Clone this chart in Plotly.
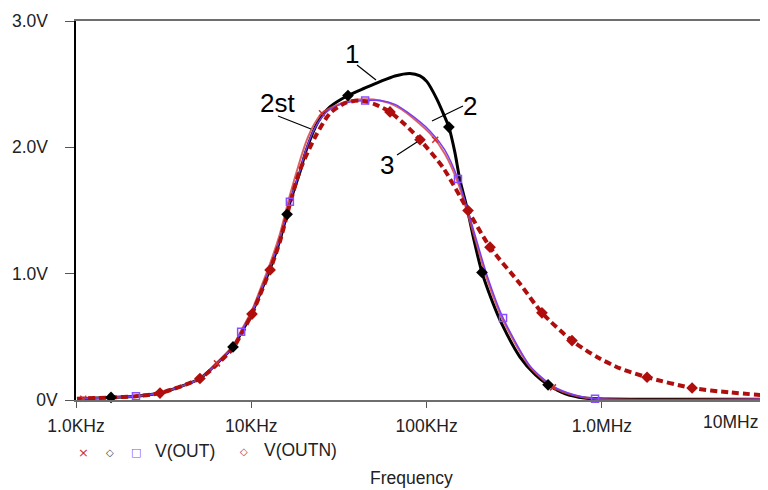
import plotly.graph_objects as go

# ---------------- data ----------------
NB = "\u00a0"
x_tick_vals = [1e3, 1e4, 1e5, 1e6]
x_tick_text = ["1.0KHz", "10KHz", "100KHz", "1.0MHz"]
x_last_label = "10MHz"
y_tick_vals = [0, 1, 2, 3]
y_tick_text = ["0V", "1.0V" + NB * 2, "2.0V" + NB * 2, "3.0V" + NB * 2]

# curve 1 (black)
f_black = [1013, 1584, 2198, 3014, 5093, 6368, 7864, 8750, 10090, 11200, 12800, 14600,
           16600, 19000, 20500, 24000, 28100, 35600, 44600, 54200, 66000, 80300, 91700,
           100400, 114600, 127000, 134000, 145000, 155000, 170000, 186000, 207000, 237000,
           269000, 341000, 417000, 493000, 614000, 794000, 1100000, 8860000]
v_black = [0.01, 0.02, 0.03, 0.055, 0.17, 0.29, 0.42, 0.53, 0.69, 0.84, 1.04, 1.27,
           1.56, 1.81, 1.97, 2.20, 2.32, 2.41, 2.47, 2.52, 2.565, 2.585, 2.565,
           2.52, 2.38, 2.24, 2.16, 1.96, 1.74, 1.52, 1.27, 1.01, 0.78,
           0.60, 0.34, 0.20, 0.12, 0.05, 0.015, 0.008, 0.006]
f_black_mk = [1584, 7864, 16000, 35600, 134000, 207000, 493000]
v_black_mk = [0.02, 0.42, 1.47, 2.41, 2.16, 1.01, 0.12]

# curve 2 (purple) V(OUT)
f_purple = [1013, 1584, 2198, 3014, 5093, 6368, 7864, 8750, 10090, 11200, 12800, 14600,
            16600, 19000, 20500, 22800, 25300, 28100, 34200, 44600, 54200, 66000, 77300,
            104500, 127000, 151000, 184000, 222000, 273000, 389000, 526000, 700000,
            914000, 8860000]
v_purple = [0.01, 0.02, 0.03, 0.055, 0.17, 0.29, 0.42, 0.54, 0.69, 0.84, 1.05, 1.28,
            1.57, 1.82, 1.98, 2.14, 2.24, 2.30, 2.35, 2.37, 2.37, 2.34, 2.28,
            2.13, 1.98, 1.75, 1.36, 0.98, 0.65, 0.27, 0.11, 0.04,
            0.01, 0.006]
f_purple_mk = [2198, 8750, 16600, 44600, 151000, 273000, 914000]
v_purple_mk = [0.03, 0.54, 1.57, 2.37, 1.75, 0.65, 0.01]

# curve 2st (light red) V(OUT)
f_red2st = [1013, 1584, 2198, 3014, 5093, 6368, 7864, 8750, 10090, 11200, 12800, 14600,
            16600, 19000, 20500, 22800, 25300, 28100, 34200, 44600, 54200, 66000, 77300,
            104500, 127000, 151000, 184000, 222000, 273000, 389000, 526000, 700000,
            914000, 8860000]
v_red2st = [0.01, 0.02, 0.03, 0.055, 0.17, 0.29, 0.43, 0.55, 0.71, 0.87, 1.08, 1.32,
            1.62, 1.90, 2.04, 2.18, 2.27, 2.31, 2.36, 2.38, 2.37, 2.33, 2.27,
            2.11, 1.95, 1.72, 1.33, 0.95, 0.63, 0.26, 0.10, 0.035,
            0.01, 0.006]
f_red2st_mk = [1100, 6368, 25300, 112000, 526000]
v_red2st_mk = [0.01, 0.29, 2.27, 2.06, 0.10]

# curve 3 (dark red, dashed) V(OUTN)
f_outn = [1013, 1584, 2198, 3014, 5093, 6368, 7864, 8750, 10090, 11200, 12800, 14600,
          16600, 18960, 23090, 28120, 34230, 41690, 50770, 61830, 75300, 91700, 124000,
          172300, 230000, 341000, 455000, 675000, 938000, 1270000, 1810000, 3270000,
          5380000, 8860000]
v_outn = [0.01, 0.02, 0.03, 0.055, 0.17, 0.28, 0.41, 0.52, 0.68, 0.83, 1.03, 1.26,
          1.55, 1.82, 2.08, 2.27, 2.35, 2.37, 2.34, 2.28, 2.18, 2.06, 1.84,
          1.50, 1.21, 0.92, 0.69, 0.47, 0.34, 0.25, 0.18, 0.095,
          0.06, 0.035]
f_outn_mk = [3014, 5093, 10090, 12800, 61830, 91700, 172300, 230000, 455000, 675000, 1810000, 3270000]
v_outn_mk = [0.055, 0.17, 0.68, 1.03, 2.28, 2.06, 1.50, 1.21, 0.69, 0.47, 0.18, 0.095]

legend_names = ["V(OUT)", "V(OUTN)"]
x_title = "Frequency"

# ---------------- layout geometry ----------------
# the page body has an 8px margin, so the figure is drawn 8px right/down
OFF = 8
W, H = 768 - OFF, 490 - OFF
L, R, T, B = 76, 768, 21, 400          # plot area in window pixels
VISIBLE_RIGHT = 760                    # rightmost pixel that shows in the photo
PX_PER_DECADE = 175.3
XMIN = 3.0
XMAX = XMIN + (R - L) / PX_PER_DECADE

def px(x):
    return (x - L) / (R - L)

def py(y):
    return (B - y) / (B - T)

FONT = "Arial, Liberation Sans, sans-serif"
TXT = 17.5
C_BLACK = "#000000"
C_PURPLE = "#7a3cf0"
C_RED2ST = "rgba(214,70,70,0.85)"
C_OUTN = "#b00d0d"

fig = go.Figure()

fig.add_trace(go.Scatter(x=f_black, y=v_black, mode="lines",
                         line=dict(color=C_BLACK, width=3, shape="spline", smoothing=0.7)))
fig.add_trace(go.Scatter(x=f_red2st, y=v_red2st, mode="lines",
                         line=dict(color=C_RED2ST, width=2, shape="spline", smoothing=0.7)))
fig.add_trace(go.Scatter(x=f_purple, y=v_purple, mode="lines",
                         line=dict(color=C_PURPLE, width=1.5, shape="spline", smoothing=0.7)))
fig.add_trace(go.Scatter(x=f_outn, y=v_outn, mode="lines",
                         line=dict(color=C_OUTN, width=4, dash="7px,4px", shape="spline", smoothing=0.7)))

fig.add_trace(go.Scatter(x=f_red2st_mk, y=v_red2st_mk, mode="markers", cliponaxis=False,
                         marker=dict(symbol="x-thin", size=6, color="#d03030",
                                     line=dict(color="#d03030", width=1.5))))
fig.add_trace(go.Scatter(x=f_outn_mk, y=v_outn_mk, mode="markers", cliponaxis=False,
                         marker=dict(symbol="diamond", size=9, color=C_OUTN)))
fig.add_trace(go.Scatter(x=f_purple_mk, y=v_purple_mk, mode="markers", cliponaxis=False,
                         marker=dict(symbol="square-open", size=7, color="#8a4dff",
                                     line=dict(color="#8a4dff", width=1.5))))
fig.add_trace(go.Scatter(x=f_black_mk, y=v_black_mk, mode="markers", cliponaxis=False,
                         marker=dict(symbol="diamond", size=9, color=C_BLACK)))

annotations = []
shapes = []

def label(text, x, y, size=26):
    annotations.append(dict(text=text, x=px(x), y=py(y), xref="paper", yref="paper",
                            showarrow=False, xanchor="center", yanchor="middle",
                            font=dict(family=FONT, size=size, color="#000")))

def pointer(x0, y0, x1, y1):
    shapes.append(dict(type="line", xref="paper", yref="paper",
                       x0=px(x0), y0=py(y0), x1=px(x1), y1=py(y1),
                       line=dict(color="#000", width=1.2)))

label("1", 352, 54)
pointer(357, 65, 376, 80)
label("2st", 277, 103)
pointer(278, 116, 311, 129)
label("2", 470, 106)
pointer(463, 106, 432, 121)
label("3", 387, 165)
pointer(397, 155, 417, 142)

annotations.append(dict(text=x_last_label, x=px(VISIBLE_RIGHT), y=py(422), xref="paper", yref="paper",
                        showarrow=False, xanchor="right", yanchor="middle",
                        font=dict(family=FONT, size=TXT, color="#222")))

annotations.append(dict(text=x_title, x=px(411), y=py(478), xref="paper", yref="paper",
                        showarrow=False, xanchor="center", yanchor="middle",
                        font=dict(family=FONT, size=TXT, color="#222")))

def leg(text, x, y, color, size, anchor="center", family=FONT):
    annotations.append(dict(text=text, x=px(x), y=py(y), xref="paper", yref="paper",
                            showarrow=False, xanchor=anchor, yanchor="middle",
                            font=dict(family=family, size=size, color=color)))

SYM = "DejaVu Sans"
leg("×", 83, 452, "#d03030", 13, family=SYM)
leg("◇", 110, 452, "#444", 10, family=SYM)
leg("□", 136, 452, "#8a4dff", 11, family=SYM)
leg(legend_names[0], 153, 451, "#222", TXT, anchor="left")
leg("◇", 244, 451, "#c03030", 10, family=SYM)
leg(legend_names[1], 262, 450, "#222", TXT, anchor="left")

fig.update_layout(
    width=W, height=H,
    margin=dict(l=L - OFF, r=0, t=T - OFF, b=H - (B - OFF), pad=0),
    paper_bgcolor="white", plot_bgcolor="white",
    showlegend=False,
    font=dict(family=FONT, size=TXT, color="#222"),
    annotations=annotations, shapes=shapes,
    xaxis=dict(type="log", range=[XMIN, XMAX], tickvals=x_tick_vals, ticktext=x_tick_text,
               showgrid=False, zeroline=False, showline=True, linecolor="#6e6e6e",
               linewidth=1.5, mirror=True, ticks="outside", ticklen=6, tickcolor="#555",
               tickwidth=1, tickfont=dict(family=FONT, size=TXT, color="#222"),
               ticklabelstandoff=3),
    yaxis=dict(range=[0, 3], tickvals=y_tick_vals, ticktext=y_tick_text,
               showgrid=False, zeroline=False, showline=True, linecolor="#000",
               linewidth=1.5, ticks="outside", ticklen=9, tickcolor="#555", tickwidth=1.2,
               tickfont=dict(family=FONT, size=TXT, color="#222"), ticklabelstandoff=4),
)

fig.write_html("out.html")
